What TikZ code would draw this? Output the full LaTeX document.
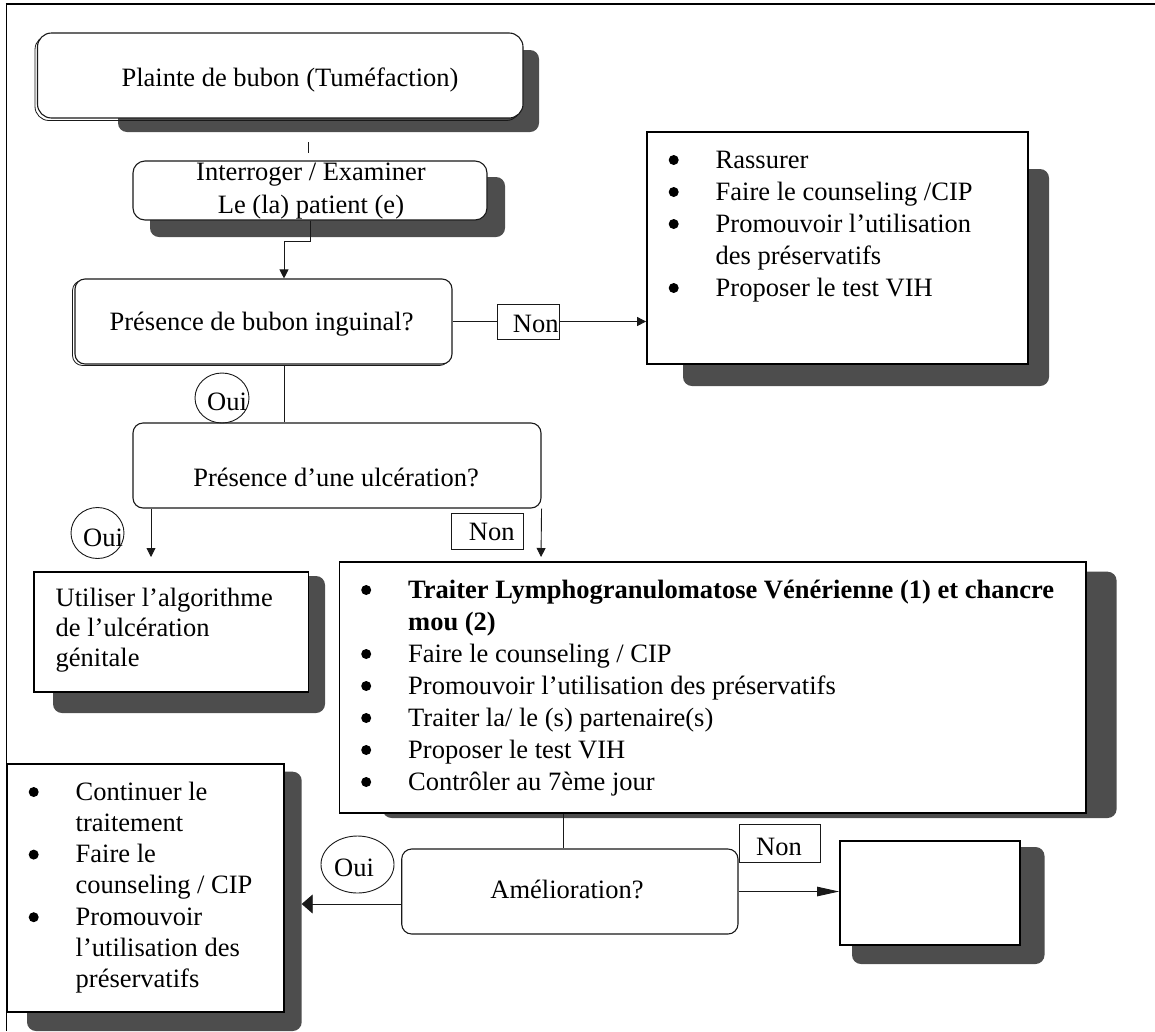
\documentclass[tikz,border=0pt]{standalone}
\usepackage{fontspec}
\setmainfont{Liberation Serif}
\usetikzlibrary{arrows.meta,shapes.geometric,calc}

\definecolor{shade}{RGB}{77,77,77}
\definecolor{ink}{RGB}{25,25,25}

% bullet marker and hanging indent for the lists
\newcommand\blt{\makebox[47.5pt][l]{\hspace*{0.5pt}\tikz[x=1pt,y=1pt,baseline=0pt]\fill[black] (5,8) circle (5);}}
\newcommand\hang{\hspace*{47.5pt}}

\tikzset{
  shadowbox/.style={fill=shade, rounded corners=9pt},
  roundbox/.style={draw=ink, fill=white, rounded corners=10pt, line width=1.1pt, inner sep=0pt},
  sqbox/.style={draw=black, fill=white, line width=1.8pt, inner sep=0pt},
  tagbox/.style={draw=ink, fill=white, line width=0.9pt, inner sep=0pt},
  ovalbox/.style={draw=ink, ellipse, line width=0.9pt, inner sep=0pt},
  txt/.style={inner sep=0pt, anchor=base},
  listtxt/.style={inner sep=0pt, anchor=base west},
  link/.style={draw=ink, line width=0.9pt},
  arr/.style={link, -{Triangle[length=9pt,width=9pt]}},
}

\begin{document}
\begin{tikzpicture}[x=1pt, y=-1pt, font=\fontsize{26.5}{32}\selectfont]
\useasboundingbox (0,0) rectangle (1155,1031);

% page frame
\draw[line width=1.1pt] (6.5,1031) -- (6.5,4);
\draw[line width=2pt] (5.5,4) -- (1155,4);

% drop shadows
\fill[shadowbox] (118,50) rectangle (539,132);
\fill[shadowbox] (150,177) rectangle (505,237);
\fill[shadowbox] (683,169) rectangle (1049,386);
\fill[shadowbox] (53,576) rectangle (325,713);
\fill[shadowbox] (382.6,571.7) rectangle (1116.6,818);
\fill[shadowbox] (852,847) rectangle (1044.5,964);
\fill[shadowbox] (27,771.7) rectangle (301.7,1031);

% offset outlines behind the first two rounded boxes
\draw[ink, line width=0.8pt, rounded corners=14pt] (35,35.5) rectangle (520.5,120.5);
\draw[ink, line width=0.8pt, rounded corners=10pt] (72.5,280.5) rectangle (449.5,365.5);

% boxes
\node[roundbox, rounded corners=14pt, minimum width=485.5pt, minimum height=85pt] (top) at (280.25,75.5) {};
\node[roundbox, rounded corners=12pt, minimum width=354pt, minimum height=59pt] (exam) at (310,190.5) {};
\node[roundbox, minimum width=377pt, minimum height=85pt] (q1) at (263.5,321.5) {};
\node[sqbox, minimum width=381pt, minimum height=232pt] (r1) at (837.5,248) {};
\node[roundbox, minimum width=408pt, minimum height=85pt] (q2) at (337,465.5) {};
\node[sqbox, minimum width=274.8pt, minimum height=120pt] (alg) at (171.1,632) {};
\node[sqbox, minimum width=746.5pt, minimum height=251pt] (trt) at (712.75,687.2) {};
\node[roundbox, minimum width=336.3pt, minimum height=85pt] (amel) at (569.85,891.5) {};
\node[sqbox, minimum width=180pt, minimum height=104pt] (fin) at (930,893) {};
\node[sqbox, minimum width=276.6pt, minimum height=247.7pt] (cont) at (145.3,887.85) {};

% answer tags
\node[tagbox, minimum width=62pt, minimum height=35pt] (non1) at (528,321.5) {};
\node[tagbox, minimum width=71.5pt, minimum height=36pt] (non2) at (487.25,531) {};
\node[tagbox, minimum width=81.7pt, minimum height=38pt] (non3) at (779.85,843) {};
\node[ovalbox, minimum width=54pt, minimum height=50pt] (oui1) at (222,398) {};
\node[ovalbox, minimum width=53pt, minimum height=51pt] (oui2) at (97.5,533) {};
\node[ovalbox, minimum width=73pt, minimum height=57pt] (oui3) at (357.5,864.5) {};

% helper points for the connectors
\coordinate (tickA) at (308,142);
\coordinate (tickB) at (308,153);
\coordinate (elbow) at (284,241);
\coordinate (algin) at (151,557);
\coordinate (trtin) at (541,557);
\coordinate (tv) at (563,830);
\coordinate (contin) at (301.7,904);

% connectors
\draw[link] (tickA) -- (tickB);
\draw[arr] (exam.south) |- (elbow) -- (elbow |- q1.north);
\draw[link] (q1.east) -- (non1.west);
\draw[arr] (non1.east) -- (r1.west |- non1.east);
\draw[link] (elbow |- q1.south) -- (elbow |- q2.north);
\draw[arr] (q2.south -| algin) -- (algin);
\draw[arr] (q2.south east) -- (trtin);
\draw[link] (trt.south -| tv) -- (amel.north -| tv);
\draw[link, -{Triangle[length=11pt,width=19pt]}] (amel.west |- contin) -- (contin);
\draw[link, -{Triangle[length=22pt,width=9.5pt]}] (amel.east) -- (fin.west |- amel.east);

% texts
\node[txt] (topt) at (290,86) {Plainte de bubon (Tuméfaction)};
\node[txt, font=\fontsize{26.5}{33}\selectfont] (examt) at (311,180)
  {\begin{tabular}[t]{@{}c@{}}Interroger / Examiner\\Le (la) patient (e)\end{tabular}};
\node[txt] (q1t) at (261.6,330.7) {Présence de bubon inguinal?};
\node[txt] (q2t) at (336,486) {Présence d’une ulcération?};
\node[txt] (amelt) at (567,898) {Amélioration?};

\node[txt] (non1t) at (535.8,332) {Non};
\node[txt] (non2t) at (491.8,540) {Non};
\node[txt] (non3t) at (779,855) {Non};
\node[txt] (oui1t) at (227,410.7) {Oui};
\node[txt] (oui2t) at (103,546.7) {Oui};
\node[txt] (oui3t) at (354,876.7) {Oui};

\node[listtxt] (r1t) at (668,168)
  {\begin{tabular}[t]{@{}l@{}}
   \blt Rassurer\\
   \blt Faire le counseling /CIP\\
   \blt Promouvoir l’utilisation\\
   \hang des préservatifs\\
   \blt Proposer le test VIH
   \end{tabular}};

\node[listtxt, font=\fontsize{26.5}{30}\selectfont] (algt) at (55.5,606.7)
  {\begin{tabular}[t]{@{}l@{}}
   Utiliser l’algorithme\\
   de l’ulcération\\
   génitale
   \end{tabular}};

\node[listtxt] (trtt) at (360.5,598)
  {\begin{tabular}[t]{@{}l@{}}
   \blt\textbf{Traiter Lymphogranulomatose Vénérienne (1) et chancre}\\
   \hang\textbf{mou (2)}\\
   \blt Faire le counseling / CIP\\
   \blt Promouvoir l’utilisation des préservatifs\\
   \blt Traiter la/ le (s) partenaire(s)\\
   \blt Proposer le test VIH\\
   \blt Contrôler au 7ème jour
   \end{tabular}};

\node[listtxt, font=\fontsize{26.5}{31.3}\selectfont] (contt) at (28,800)
  {\begin{tabular}[t]{@{}l@{}}
   \blt Continuer le\\
   \hang traitement\\
   \blt Faire le\\
   \hang counseling / CIP\\
   \blt Promouvoir\\
   \hang l’utilisation des\\
   \hang préservatifs
   \end{tabular}};
\end{tikzpicture}
\end{document}
